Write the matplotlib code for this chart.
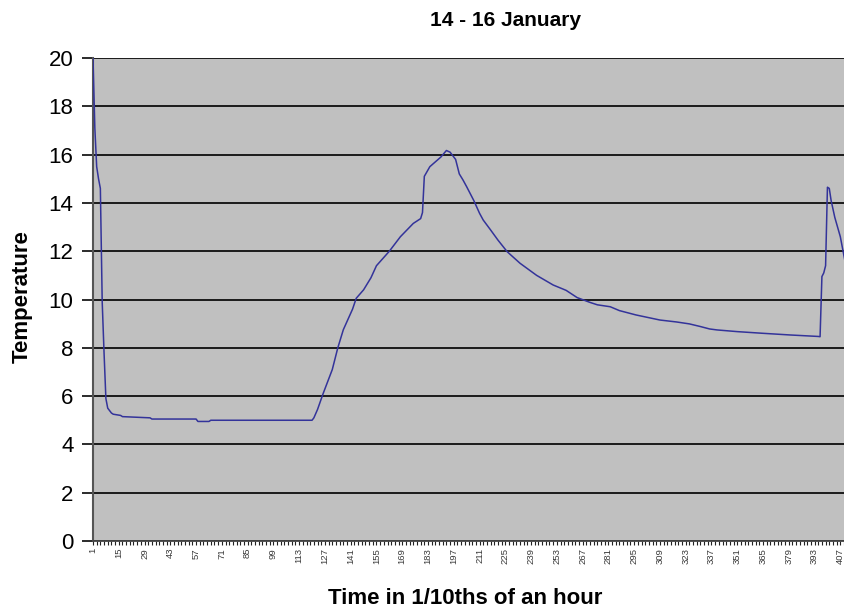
import matplotlib
matplotlib.use("Agg")
import matplotlib.pyplot as plt
import numpy as np

plt.rcParams['font.family'] = ['Liberation Sans', 'DejaVu Sans']

# Readings (category index on the time axis, temperature)
time_idx = [1, 2, 3, 4, 5, 6, 7, 8, 9, 11, 12, 16, 17, 32, 33, 57, 58, 64, 65,
            120, 121, 123, 126, 131, 134, 137, 142, 144, 148, 152, 155, 162, 168,
            175, 179, 180, 181, 184, 187, 190, 193, 195, 198, 200, 202, 204, 208,
            211, 213, 217, 219, 221, 226, 233, 242, 251, 258, 264, 271, 275, 282,
            287, 296, 309, 318, 325, 331, 336, 340, 351, 365, 380, 395, 396, 397,
            398, 399, 400, 401, 402, 404, 407, 409, 410]
temperature = [20.0, 17.1, 15.5, 15.0, 14.6, 9.9, 7.8, 5.9, 5.5, 5.3, 5.25, 5.2, 5.15,
               5.1, 5.05, 5.05, 4.95, 4.95, 5.0,
               5.0, 5.1, 5.45, 6.1, 7.1, 8.0, 8.75, 9.6, 10.05, 10.4, 10.9, 11.4, 12.0, 12.6,
               13.15, 13.35, 13.6, 15.1, 15.5, 15.7, 15.9, 16.17, 16.1, 15.8, 15.2, 14.95, 14.67, 14.08,
               13.57, 13.29, 12.88, 12.67, 12.46, 11.98, 11.5, 11.0, 10.6, 10.38, 10.08, 9.88, 9.78, 9.7,
               9.54, 9.36, 9.15, 9.07, 8.99, 8.88, 8.78, 8.74, 8.67, 8.6, 8.53, 8.47, 8.46, 10.95,
               11.1, 11.4, 14.65, 14.6, 14.1, 13.4, 12.6, 11.8, 11.4]

tick_labels = [str(v) for v in range(1, 408, 14)]
y_ticks = list(range(0, 21, 2))

W, H = 844, 611
fig = plt.figure(figsize=(W / 100, H / 100), dpi=100)
fig.patch.set_facecolor('white')

left, right, top, bottom = 93, 844, 58, 541
ax = fig.add_axes([left / W, 1 - bottom / H, (right - left) / W, (bottom - top) / H])
ax.set_facecolor('#C0C0C0')

ax.plot(time_idx, temperature, color='#33339A', lw=1.1, zorder=3)

ax.set_xlim(1, 409)
ax.set_ylim(0, 20)

ax.set_yticks(y_ticks)
ax.set_yticklabels([str(v) for v in y_ticks], fontsize=16)
ax.yaxis.grid(True, color='#1a1a1a', lw=1.4, zorder=1)
ax.set_axisbelow(True)

major_pos = [int(s) for s in tick_labels]
ax.set_xticks(major_pos)
ax.set_xticklabels(tick_labels, rotation=90, fontsize=6.8, color='#3a3a3a')
ax.set_xticks(list(range(1, 410, 2)), minor=True)
ax.tick_params(axis='x', which='both', direction='out', length=3, width=0.8,
               color='#222222', pad=2)
ax.tick_params(axis='y', direction='out', length=8, width=1.3, color='#1a1a1a', pad=6)

for s in ['top', 'right']:
    ax.spines[s].set_visible(False)
ax.spines['left'].set_color('#555555')
ax.spines['left'].set_linewidth(1.5)
ax.spines['bottom'].set_color('#444444')
ax.spines['bottom'].set_linewidth(1.3)

fig.text(505 / W, 1 - 21 / H, '14 - 16 January', ha='center', va='center',
         fontsize=15, fontweight='bold')
fig.text(465 / W, 1 - 599 / H, 'Time in 1/10ths of an hour', ha='center', va='center',
         fontsize=16, fontweight='bold')
fig.text(22 / W, 1 - 297 / H, 'Temperature', ha='center', va='center', rotation=90,
         fontsize=16, fontweight='bold')

fig.savefig('out.png', dpi=100, facecolor='white')
